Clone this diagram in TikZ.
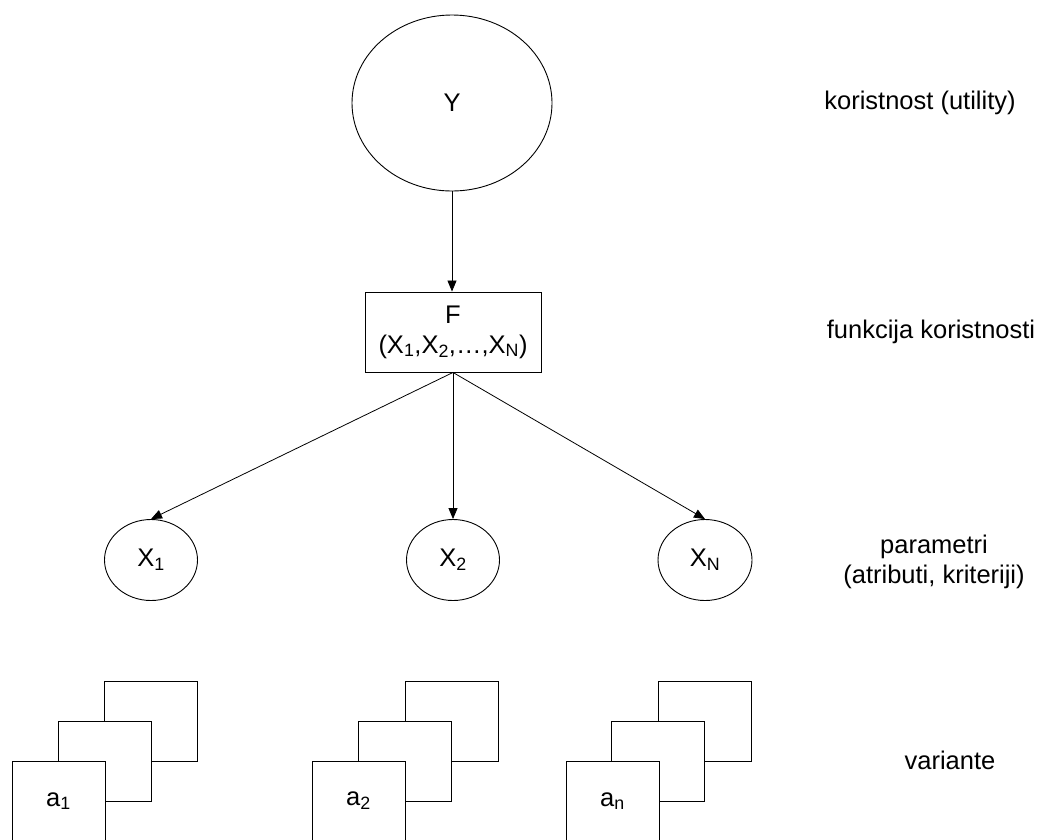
\documentclass[tikz,border=0pt]{standalone}
\usepackage{fontspec}
\setmainfont{Liberation Sans}
\usetikzlibrary{arrows.meta,shapes.geometric}
\begin{document}
\begin{tikzpicture}[x=1pt,y=-1pt,
  every node/.style={font=\fontsize{25.5}{30}\selectfont, text=black},
  ell/.style={draw, ellipse, line width=0.9pt, inner sep=0pt},
  fbox/.style={draw, rectangle, line width=0.9pt, minimum width=176pt, minimum height=80pt, align=center, inner sep=0pt},
  card/.style={draw, rectangle, fill=white, line width=0.9pt, minimum width=93pt, minimum height=80pt, inner sep=0pt},
  arr/.style={-{Triangle[length=11pt,width=9pt]}, line width=0.8pt},
  lab/.style={align=center}]
\useasboundingbox (0,0) rectangle (1040,839);
\node[ell, minimum width=200pt, minimum height=176pt] (Y) at (452,103) {Y};
\node[fbox] (F) at (453,332) {F\\(X\textsubscript{1},X\textsubscript{2},\dots,X\textsubscript{N})};
\node[ell, minimum width=93pt, minimum height=81pt] (X1) at (151,560) {X\textsubscript{1}};
\node[ell, minimum width=93pt, minimum height=81pt] (X2) at (453,560) {X\textsubscript{2}};
\node[ell, minimum width=94pt, minimum height=81pt] (XN) at (705,560) {X\textsubscript{N}};
\draw[arr] (Y.south) -- (Y.south |- F.north);
\draw[arr] (F.south) -- (X1.north);
\draw[arr] (F.south) -- (X2.north);
\draw[arr] (F.south) -- (XN.north);
% stacks
\node[card] (b1) at (151,721) {};
\node[card] (m1) at (104.5,761) {};
\node[card] (f1) at (58.5,801) {a\textsubscript{1}};
\node[card] (b2) at (451.5,721) {};
\node[card] (m2) at (405,761) {};
\node[card] (f2) at (358.5,801) {a\textsubscript{2}};
\node[card] (b3) at (704.5,721) {};
\node[card] (m3) at (658,761) {};
\node[card] (f3) at (612.5,801) {a\textsubscript{n}};
% right labels
\node[lab] (l1) at (920,103) {koristnost (utility)};
\node[lab] (l2) at (931,332) {funkcija koristnosti};
\node[lab] (l3) at (934,562) {parametri\\ (atributi, kriteriji)};
\node[lab] (l4) at (950,760) {variante};
\end{tikzpicture}
\end{document}
